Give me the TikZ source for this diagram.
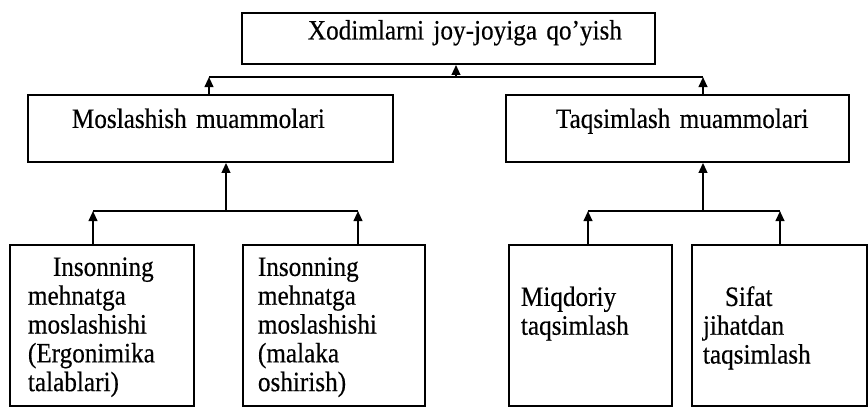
\documentclass[tikz,border=0pt]{standalone}
\usepackage{fontspec}
\setmainfont[FakeStretch=0.9, FakeBold=0.4, WordSpace=0.85]{Liberation Serif}
\usetikzlibrary{arrows.meta}

\begin{document}
\begin{tikzpicture}[
x=0.75pt, y=-0.75pt,
box/.style={draw, line width=1.4pt, inner sep=0pt, anchor=north west, align=left, font=\fontsize{21}{21.6}\selectfont},
pad/.style={execute at begin node={\leftskip=#1\relax}},
line/.style={line width=1.4pt},
arrow/.style={-{Triangle[length=7.5pt, width=6.5pt]}, line width=1.4pt}
]
\useasboundingbox (0,0) rectangle (868,407);
% boxes
\node[box, text width=309.75pt, text height=19.9pt, text depth=18.4pt, pad=49.5pt] (place) at (241,12) {Xodimlarni joy-joyiga qo’yish};
\node[box, text width=273.75pt, text height=24.75pt, text depth=25.5pt, pad=33pt] (adapt) at (27,94) {Moslashish muammolari};
\node[box, text width=257.25pt, text height=24.75pt, text depth=25.5pt, pad=37.5pt] (distr) at (505,94) {Taqsimlash muammolari};
\node[box, text width=138pt, text height=23.25pt, text depth=97.5pt, pad=13.5pt] (ergo) at (9,244) {\hspace*{18.75pt}Insonning\\ mehnatga\\ moslashishi\\ (Ergonimika\\ talablari)};
\node[box, text width=136.5pt, text height=23.25pt, text depth=97.5pt, pad=11.25pt] (skill) at (242,244) {Insonning\\ mehnatga\\ moslashishi\\ (malaka\\ oshirish)};
\node[box, text width=122.25pt, text height=45.75pt, text depth=75pt, pad=9pt] (quant) at (508,244) {Miqdoriy\\ taqsimlash};
\node[box, text width=131.25pt, text height=45.75pt, text depth=75pt, pad=8.25pt] (qual) at (691,244) {\hspace*{16.5pt}Sifat\\ jihatdan\\ taqsimlash};
% bus lines
\coordinate (topbus) at (456,77);
\coordinate (topbusl) at (209,77);
\coordinate (topbusr) at (703,77);
\coordinate (adbus) at (226,211);
\coordinate (adbusl) at (93,211);
\coordinate (adbusr) at (358,211);
\coordinate (dibus) at (703,211);
\coordinate (dibusl) at (588,211);
\coordinate (dibusr) at (780,211);
\draw[line] (topbusl) -- (topbusr);
\draw[line] (adbusl) -- (adbusr);
\draw[line] (dibusl) -- (dibusr);
% arrows
\draw[arrow] (topbus) -- (topbus |- place.south);
\draw[arrow] (topbusl |- adapt.north) -- (topbusl);
\draw[arrow] (topbusr |- distr.north) -- (topbusr);
\draw[arrow] (adbus) -- (adbus |- adapt.south);
\draw[arrow] (adbusl |- ergo.north) -- (adbusl);
\draw[arrow] (adbusr |- skill.north) -- (adbusr);
\draw[arrow] (dibus) -- (dibus |- distr.south);
\draw[arrow] (dibusl |- quant.north) -- (dibusl);
\draw[arrow] (dibusr |- qual.north) -- (dibusr);
\end{tikzpicture}
\end{document}
